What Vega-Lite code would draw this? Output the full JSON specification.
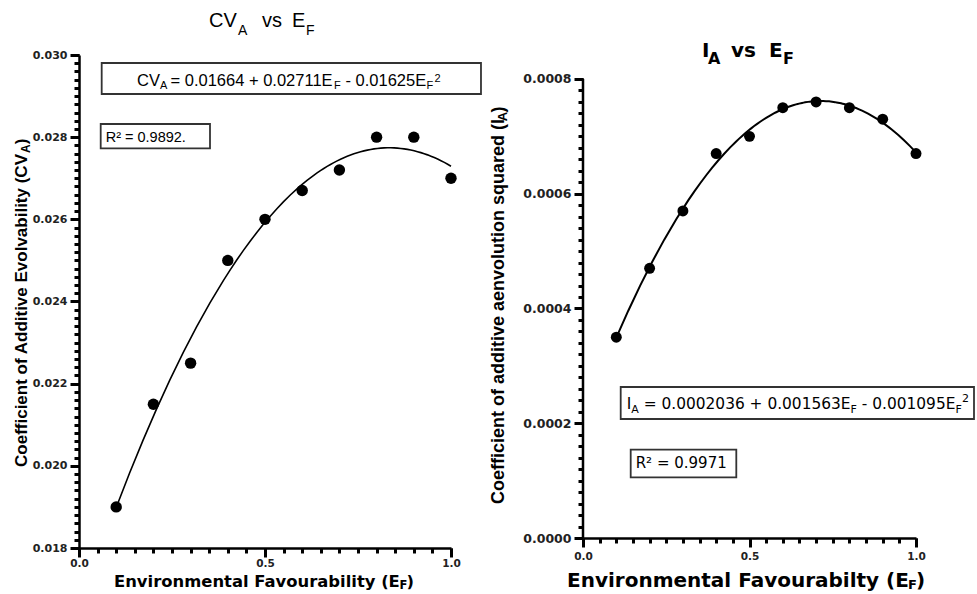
{
  "$schema": "https://vega.github.io/schema/vega-lite/v6.json",
  "autosize": {"type": "pad"},
  "padding": {"left": 13, "top": 11, "right": 0, "bottom": 0},
  "background": "white",
  "config": {
    "view": {"stroke": null},
    "axis": {"grid": false, "ticks": true, "tickOpacity": 1, "zindex": 1, "domainColor": "black", "domainWidth": 2.5, "tickColor": "#000", "tickWidth": 3, "labelColor": "#222", "labelFont": "DejaVu Sans", "labelFontWeight": "bold", "labelFlush": false, "labelOverlap": false, "labelBound": false}
  },
  "datasets": {
    "cv": [
      {"ef": 0.1, "cva": 0.0190}, {"ef": 0.2, "cva": 0.0215}, {"ef": 0.3, "cva": 0.0225}, {"ef": 0.4, "cva": 0.0250}, {"ef": 0.5, "cva": 0.0260},
      {"ef": 0.6, "cva": 0.0267}, {"ef": 0.7, "cva": 0.0272}, {"ef": 0.8, "cva": 0.0280}, {"ef": 0.9, "cva": 0.0280}, {"ef": 1.0, "cva": 0.0270}
    ],
    "ia": [
      {"ef": 0.1, "ia": 0.00035}, {"ef": 0.2, "ia": 0.00047}, {"ef": 0.3, "ia": 0.00057}, {"ef": 0.4, "ia": 0.00067}, {"ef": 0.5, "ia": 0.00070},
      {"ef": 0.6, "ia": 0.00075}, {"ef": 0.7, "ia": 0.00076}, {"ef": 0.8, "ia": 0.00075}, {"ef": 0.9, "ia": 0.00073}, {"ef": 1.0, "ia": 0.00067}
    ]
  },
  "bounds": "flush",
  "spacing": 132,
  "hconcat": [
    {
      "width": 372,
      "height": 493,
      "data": {"values": [{}]},
      "resolve": {"axis": {"x": "independent", "y": "independent"}},
      "layer": [
        {
          "data": {"name": "cv"},
          "transform": [{"regression": "cva", "on": "ef", "method": "poly", "order": 2}],
          "mark": {"type": "line", "color": "black", "strokeWidth": 1.6},
          "encoding": {
            "x": {"field": "ef", "type": "quantitative", "scale": {"domain": [0, 1], "nice": false, "zero": false},
              "axis": {"title": null, "orient": "bottom", "ticks": true, "values": [0, 0.5, 1], "format": ".1f", "tickSize": 9, "labelPadding": 1.5, "labelFontSize": 10.5}},
            "y": {"field": "cva", "type": "quantitative", "scale": {"domain": [0.018, 0.030], "nice": false, "zero": false},
              "axis": {"title": null, "orient": "left", "ticks": true, "values": [0.018, 0.020, 0.022, 0.024, 0.026, 0.028, 0.030], "format": ".3f", "tickSize": 9, "labelPadding": 3, "labelFontSize": 11}}
          }
        },
        {
          "data": {"name": "cv"},
          "mark": {"type": "point", "filled": true, "color": "black", "opacity": 1, "size": 130},
          "encoding": {
            "x": {"field": "ef", "type": "quantitative",
              "axis": {"title": null, "orient": "bottom", "ticks": true, "domain": false, "labels": false, "tickSize": 5, "values": [0,0.05,0.1,0.15,0.2,0.25,0.3,0.35,0.4,0.45,0.5,0.55,0.6,0.65,0.7,0.75,0.8,0.85,0.9,0.95,1]}},
            "y": {"field": "cva", "type": "quantitative",
              "axis": {"title": null, "orient": "left", "ticks": true, "domain": false, "labels": false, "tickSize": 5, "values": [0.018,0.0182,0.0184,0.0186,0.0188,0.019,0.0192,0.0194,0.0196,0.0198,0.02,0.0202,0.0204,0.0206,0.0208,0.021,0.0212,0.0214,0.0216,0.0218,0.022,0.0222,0.0224,0.0226,0.0228,0.023,0.0232,0.0234,0.0236,0.0238,0.024,0.0242,0.0244,0.0246,0.0248,0.025,0.0252,0.0254,0.0256,0.0258,0.026,0.0262,0.0264,0.0266,0.0268,0.027,0.0272,0.0274,0.0276,0.0278,0.028,0.0282,0.0284,0.0286,0.0288,0.029,0.0292,0.0294,0.0296,0.0298,0.03]}}
          }
        },
        {"mark": {"type": "rect", "fill": "white", "stroke": "#333", "strokeWidth": 1.8},
          "encoding": {"x": {"datum": 0.0610, "type": "quantitative", "axis": null}, "x2": {"datum": 1.0806}, "y": {"datum": 0.029805, "type": "quantitative", "axis": null}, "y2": {"datum": 0.029051}}},
        {"mark": {"type": "rect", "fill": "white", "stroke": "#333", "strokeWidth": 1.8},
          "encoding": {"x": {"datum": 0.05833, "type": "quantitative", "axis": null}, "x2": {"datum": 0.35215}, "y": {"datum": 0.028320, "type": "quantitative", "axis": null}, "y2": {"datum": 0.027729}}},
        {"mark": {"type": "text", "align": "left", "baseline": "alphabetic", "font": "Liberation Sans", "fontSize": 20, "color": "black"},
          "encoding": {"x": {"datum": 0.34946, "type": "quantitative", "axis": null}, "y": {"datum": 0.030674, "type": "quantitative", "axis": null}, "text": {"value": "CV"}}},
        {"mark": {"type": "text", "align": "left", "baseline": "alphabetic", "font": "Liberation Sans", "fontSize": 14, "color": "black"},
          "encoding": {"x": {"datum": 0.42742, "type": "quantitative", "axis": null}, "y": {"datum": 0.030487, "type": "quantitative", "axis": null}, "text": {"value": "A"}}},
        {"mark": {"type": "text", "align": "left", "baseline": "alphabetic", "font": "Liberation Sans", "fontSize": 20, "color": "black"},
          "encoding": {"x": {"datum": 0.49194, "type": "quantitative", "axis": null}, "y": {"datum": 0.030674, "type": "quantitative", "axis": null}, "text": {"value": "vs"}}},
        {"mark": {"type": "text", "align": "left", "baseline": "alphabetic", "font": "Liberation Sans", "fontSize": 20, "color": "black"},
          "encoding": {"x": {"datum": 0.57258, "type": "quantitative", "axis": null}, "y": {"datum": 0.030674, "type": "quantitative", "axis": null}, "text": {"value": "E"}}},
        {"mark": {"type": "text", "align": "left", "baseline": "alphabetic", "font": "Liberation Sans", "fontSize": 14, "color": "black"},
          "encoding": {"x": {"datum": 0.6102, "type": "quantitative", "axis": null}, "y": {"datum": 0.030487, "type": "quantitative", "axis": null}, "text": {"value": "F"}}},
        {"mark": {"type": "text", "align": "left", "baseline": "alphabetic", "font": "Liberation Sans", "fontSize": 16.5, "color": "black"},
          "encoding": {"x": {"datum": 0.15591, "type": "quantitative", "axis": null}, "y": {"datum": 0.029253, "type": "quantitative", "axis": null}, "text": {"value": "CV"}}},
        {"mark": {"type": "text", "align": "left", "baseline": "alphabetic", "font": "Liberation Sans", "fontSize": 11, "color": "black"},
          "encoding": {"x": {"datum": 0.21747, "type": "quantitative", "axis": null}, "y": {"datum": 0.029172, "type": "quantitative", "axis": null}, "text": {"value": "A"}}},
        {"mark": {"type": "text", "align": "left", "baseline": "alphabetic", "font": "Liberation Sans", "fontSize": 16.5, "color": "black"},
          "encoding": {"x": {"datum": 0.24597, "type": "quantitative", "axis": null}, "y": {"datum": 0.029253, "type": "quantitative", "axis": null}, "text": {"value": "= 0.01664 + 0.02711E"}}},
        {"mark": {"type": "text", "align": "left", "baseline": "alphabetic", "font": "Liberation Sans", "fontSize": 11, "color": "black"},
          "encoding": {"x": {"datum": 0.68548, "type": "quantitative", "axis": null}, "y": {"datum": 0.029172, "type": "quantitative", "axis": null}, "text": {"value": "F"}}},
        {"mark": {"type": "text", "align": "left", "baseline": "alphabetic", "font": "Liberation Sans", "fontSize": 16.5, "color": "black"},
          "encoding": {"x": {"datum": 0.71640, "type": "quantitative", "axis": null}, "y": {"datum": 0.029253, "type": "quantitative", "axis": null}, "text": {"value": "- 0.01625E"}}},
        {"mark": {"type": "text", "align": "left", "baseline": "alphabetic", "font": "Liberation Sans", "fontSize": 11, "color": "black"},
          "encoding": {"x": {"datum": 0.93414, "type": "quantitative", "axis": null}, "y": {"datum": 0.029172, "type": "quantitative", "axis": null}, "text": {"value": "F"}}},
        {"mark": {"type": "text", "align": "left", "baseline": "alphabetic", "font": "Liberation Sans", "fontSize": 11, "color": "black"},
          "encoding": {"x": {"datum": 0.95565, "type": "quantitative", "axis": null}, "y": {"datum": 0.029343, "type": "quantitative", "axis": null}, "text": {"value": "2"}}},
        {"mark": {"type": "text", "align": "left", "baseline": "alphabetic", "font": "Liberation Sans", "fontSize": 14.5, "color": "black"},
          "encoding": {"x": {"datum": 0.07177, "type": "quantitative", "axis": null}, "y": {"datum": 0.027890, "type": "quantitative", "axis": null}, "text": {"value": "R² = 0.9892."}}},
        {"mark": {"type": "text", "align": "left", "baseline": "alphabetic", "angle": 270, "font": "Liberation Sans", "fontWeight": "bold", "fontSize": 17, "color": "black"},
          "encoding": {"x": {"datum": -0.13978, "type": "quantitative", "axis": null}, "y": {"datum": 0.019972, "type": "quantitative", "axis": null}, "text": {"value": "Coefficient of Additive Evolvability (CV"}}},
        {"mark": {"type": "text", "align": "left", "baseline": "alphabetic", "angle": 270, "font": "Liberation Sans", "fontWeight": "bold", "fontSize": 12, "color": "black"},
          "encoding": {"x": {"datum": -0.13038, "type": "quantitative", "axis": null}, "y": {"datum": 0.027615, "type": "quantitative", "axis": null}, "text": {"value": "A"}}},
        {"mark": {"type": "text", "align": "left", "baseline": "alphabetic", "angle": 270, "font": "Liberation Sans", "fontWeight": "bold", "fontSize": 17, "color": "black"},
          "encoding": {"x": {"datum": -0.13978, "type": "quantitative", "axis": null}, "y": {"datum": 0.027826, "type": "quantitative", "axis": null}, "text": {"value": ")"}}},
        {"mark": {"type": "text", "align": "left", "baseline": "alphabetic", "font": "DejaVu Sans", "fontWeight": "bold", "fontSize": 16.4, "color": "black"},
          "encoding": {"x": {"datum": 0.09409, "type": "quantitative", "axis": null}, "y": {"datum": 0.017051, "type": "quantitative", "axis": null}, "text": {"value": "Environmental Favourability (E"}}},
        {"mark": {"type": "text", "align": "left", "baseline": "alphabetic", "font": "DejaVu Sans", "fontWeight": "bold", "fontSize": 11.5, "color": "black"},
          "encoding": {"x": {"datum": 0.86156, "type": "quantitative", "axis": null}, "y": {"datum": 0.017002, "type": "quantitative", "axis": null}, "text": {"value": "F"}}},
        {"mark": {"type": "text", "align": "left", "baseline": "alphabetic", "font": "DejaVu Sans", "fontWeight": "bold", "fontSize": 16.4, "color": "black"},
          "encoding": {"x": {"datum": 0.88038, "type": "quantitative", "axis": null}, "y": {"datum": 0.017051, "type": "quantitative", "axis": null}, "text": {"value": ")"}}}
      ]
    },
    {
      "width": 333,
      "height": 483,
      "data": {"values": [{}]},
      "resolve": {"axis": {"x": "independent", "y": "independent"}},
      "layer": [
        {
          "data": {"name": "ia"},
          "transform": [{"regression": "ia", "on": "ef", "method": "poly", "order": 2}],
          "mark": {"type": "line", "color": "black", "strokeWidth": 2},
          "encoding": {
            "x": {"field": "ef", "type": "quantitative", "scale": {"domain": [0, 1], "nice": false, "zero": false},
              "axis": {"title": null, "orient": "bottom", "ticks": true, "values": [0, 0.5, 1], "format": ".1f", "tickSize": 9, "labelPadding": 4.4, "labelFontSize": 10.5}},
            "y": {"field": "ia", "type": "quantitative", "scale": {"domain": [0, 0.00084183], "nice": false, "zero": false},
              "axis": {"title": null, "orient": "left", "ticks": true, "domain": false, "values": [0, 0.0002, 0.0004, 0.0006, 0.0008], "format": ".4f", "tickSize": 9, "labelPadding": 3, "labelFontSize": 12.5}}
          }
        },
        {
          "data": {"name": "ia"},
          "mark": {"type": "point", "filled": true, "color": "black", "opacity": 1, "size": 120},
          "encoding": {
            "x": {"field": "ef", "type": "quantitative",
              "axis": {"title": null, "orient": "bottom", "ticks": true, "domain": false, "labels": false, "tickSize": 5, "values": [0,0.05,0.1,0.15,0.2,0.25,0.3,0.35,0.4,0.45,0.5,0.55,0.6,0.65,0.7,0.75,0.8,0.85,0.9,0.95,1]}},
            "y": {"field": "ia", "type": "quantitative",
              "axis": {"title": null, "orient": "left", "ticks": true, "domain": false, "labels": false, "tickSize": 5, "values": [0,0.00002,0.00004,0.00006,0.00008,0.0001,0.00012,0.00014,0.00016,0.00018,0.0002,0.00022,0.00024,0.00026,0.00028,0.0003,0.00032,0.00034,0.00036,0.00038,0.0004,0.00042,0.00044,0.00046,0.00048,0.0005,0.00052,0.00054,0.00056,0.00058,0.0006,0.00062,0.00064,0.00066,0.00068,0.0007,0.00072,0.00074,0.00076,0.00078,0.0008]}}
          }
        },
        {"mark": {"type": "rule", "color": "black", "strokeWidth": 2.5},
          "encoding": {"x": {"datum": 0, "type": "quantitative", "axis": null}, "y": {"datum": 0, "type": "quantitative", "axis": null}, "y2": {"datum": 0.0008}}},
        {"mark": {"type": "rect", "fill": "white", "stroke": "#333", "strokeWidth": 1.8},
          "encoding": {"x": {"datum": 0.11321, "type": "quantitative", "axis": null}, "x2": {"datum": 1.17417}, "y": {"datum": 0.00026318, "type": "quantitative", "axis": null}, "y2": {"datum": 0.00020741}}},
        {"mark": {"type": "rect", "fill": "white", "stroke": "#333", "strokeWidth": 1.8},
          "encoding": {"x": {"datum": 0.14324, "type": "quantitative", "axis": null}, "x2": {"datum": 0.46036}, "y": {"datum": 0.00015390, "type": "quantitative", "axis": null}, "y2": {"datum": 0.00010580}}},
        {"mark": {"type": "text", "align": "left", "baseline": "alphabetic", "font": "DejaVu Sans", "fontWeight": "bold", "fontSize": 20, "color": "black"},
          "encoding": {"x": {"datum": 0.35736, "type": "quantitative", "axis": null}, "y": {"datum": 0.00083782, "type": "quantitative", "axis": null}, "text": {"value": "I"}}},
        {"mark": {"type": "text", "align": "left", "baseline": "alphabetic", "font": "DejaVu Sans", "fontWeight": "bold", "fontSize": 16, "color": "black"},
          "encoding": {"x": {"datum": 0.37538, "type": "quantitative", "axis": null}, "y": {"datum": 0.00082614, "type": "quantitative", "axis": null}, "text": {"value": "A"}}},
        {"mark": {"type": "text", "align": "left", "baseline": "alphabetic", "font": "DejaVu Sans", "fontWeight": "bold", "fontSize": 20, "color": "black"},
          "encoding": {"x": {"datum": 0.44444, "type": "quantitative", "axis": null}, "y": {"datum": 0.00083782, "type": "quantitative", "axis": null}, "text": {"value": "vs"}}},
        {"mark": {"type": "text", "align": "left", "baseline": "alphabetic", "font": "DejaVu Sans", "fontWeight": "bold", "fontSize": 20, "color": "black"},
          "encoding": {"x": {"datum": 0.55856, "type": "quantitative", "axis": null}, "y": {"datum": 0.00083782, "type": "quantitative", "axis": null}, "text": {"value": "E"}}},
        {"mark": {"type": "text", "align": "left", "baseline": "alphabetic", "font": "DejaVu Sans", "fontWeight": "bold", "fontSize": 16, "color": "black"},
          "encoding": {"x": {"datum": 0.6006, "type": "quantitative", "axis": null}, "y": {"datum": 0.00082614, "type": "quantitative", "axis": null}, "text": {"value": "F"}}},
        {"mark": {"type": "text", "align": "left", "baseline": "alphabetic", "font": "DejaVu Sans", "fontSize": 15.4, "color": "black"},
          "encoding": {"x": {"datum": 0.13123, "type": "quantitative", "axis": null}, "y": {"datum": 0.00022484, "type": "quantitative", "axis": null}, "text": {"value": "I"}}},
        {"mark": {"type": "text", "align": "left", "baseline": "alphabetic", "font": "DejaVu Sans", "fontSize": 11, "color": "black"},
          "encoding": {"x": {"datum": 0.14474, "type": "quantitative", "axis": null}, "y": {"datum": 0.00021786, "type": "quantitative", "axis": null}, "text": {"value": "A"}}},
        {"mark": {"type": "text", "align": "left", "baseline": "alphabetic", "font": "DejaVu Sans", "fontSize": 15.4, "color": "black"},
          "encoding": {"x": {"datum": 0.18228, "type": "quantitative", "axis": null}, "y": {"datum": 0.00022484, "type": "quantitative", "axis": null}, "text": {"value": "= 0.0002036 + 0.001563E"}}},
        {"mark": {"type": "text", "align": "left", "baseline": "alphabetic", "font": "DejaVu Sans", "fontSize": 11, "color": "black"},
          "encoding": {"x": {"datum": 0.80360, "type": "quantitative", "axis": null}, "y": {"datum": 0.00021786, "type": "quantitative", "axis": null}, "text": {"value": "F"}}},
        {"mark": {"type": "text", "align": "left", "baseline": "alphabetic", "font": "DejaVu Sans", "fontSize": 15.4, "color": "black"},
          "encoding": {"x": {"datum": 0.83724, "type": "quantitative", "axis": null}, "y": {"datum": 0.00022484, "type": "quantitative", "axis": null}, "text": {"value": "- 0.001095E"}}},
        {"mark": {"type": "text", "align": "left", "baseline": "alphabetic", "font": "DejaVu Sans", "fontSize": 11, "color": "black"},
          "encoding": {"x": {"datum": 1.11832, "type": "quantitative", "axis": null}, "y": {"datum": 0.00021786, "type": "quantitative", "axis": null}, "text": {"value": "F"}}},
        {"mark": {"type": "text", "align": "left", "baseline": "alphabetic", "font": "DejaVu Sans", "fontSize": 11, "color": "black"},
          "encoding": {"x": {"datum": 1.13814, "type": "quantitative", "axis": null}, "y": {"datum": 0.00023704, "type": "quantitative", "axis": null}, "text": {"value": "2"}}},
        {"mark": {"type": "text", "align": "left", "baseline": "alphabetic", "font": "DejaVu Sans", "fontSize": 15, "color": "black"},
          "encoding": {"x": {"datum": 0.15826, "type": "quantitative", "axis": null}, "y": {"datum": 0.00012148, "type": "quantitative", "axis": null}, "text": {"value": "R² = 0.9971"}}},
        {"mark": {"type": "text", "align": "left", "baseline": "alphabetic", "angle": 270, "font": "Liberation Sans", "fontWeight": "bold", "fontSize": 18, "color": "black"},
          "encoding": {"x": {"datum": -0.23724, "type": "quantitative", "axis": null}, "y": {"datum": 0.00005926, "type": "quantitative", "axis": null}, "text": {"value": "Coefficient of additive aenvolution squared (I"}}},
        {"mark": {"type": "text", "align": "left", "baseline": "alphabetic", "angle": 270, "font": "Liberation Sans", "fontWeight": "bold", "fontSize": 13, "color": "black"},
          "encoding": {"x": {"datum": -0.22823, "type": "quantitative", "axis": null}, "y": {"datum": 0.00072645, "type": "quantitative", "axis": null}, "text": {"value": "A"}}},
        {"mark": {"type": "text", "align": "left", "baseline": "alphabetic", "angle": 270, "font": "Liberation Sans", "fontWeight": "bold", "fontSize": 18, "color": "black"},
          "encoding": {"x": {"datum": -0.23724, "type": "quantitative", "axis": null}, "y": {"datum": 0.00074161, "type": "quantitative", "axis": null}, "text": {"value": ")"}}},
        {"mark": {"type": "text", "align": "left", "baseline": "alphabetic", "font": "DejaVu Sans", "fontWeight": "bold", "fontSize": 20, "color": "black"},
          "encoding": {"x": {"datum": -0.04805, "type": "quantitative", "axis": null}, "y": {"datum": -0.00008540, "type": "quantitative", "axis": null}, "text": {"value": "Environmental Favourabilty (E"}}},
        {"mark": {"type": "text", "align": "left", "baseline": "alphabetic", "font": "DejaVu Sans", "fontWeight": "bold", "fontSize": 13, "color": "black"},
          "encoding": {"x": {"datum": 0.97598, "type": "quantitative", "axis": null}, "y": {"datum": -0.00008889, "type": "quantitative", "axis": null}, "text": {"value": "F"}}},
        {"mark": {"type": "text", "align": "left", "baseline": "alphabetic", "font": "DejaVu Sans", "fontWeight": "bold", "fontSize": 20, "color": "black"},
          "encoding": {"x": {"datum": 1.0, "type": "quantitative", "axis": null}, "y": {"datum": -0.00008540, "type": "quantitative", "axis": null}, "text": {"value": ")"}}}
      ]
    }
  ]
}
